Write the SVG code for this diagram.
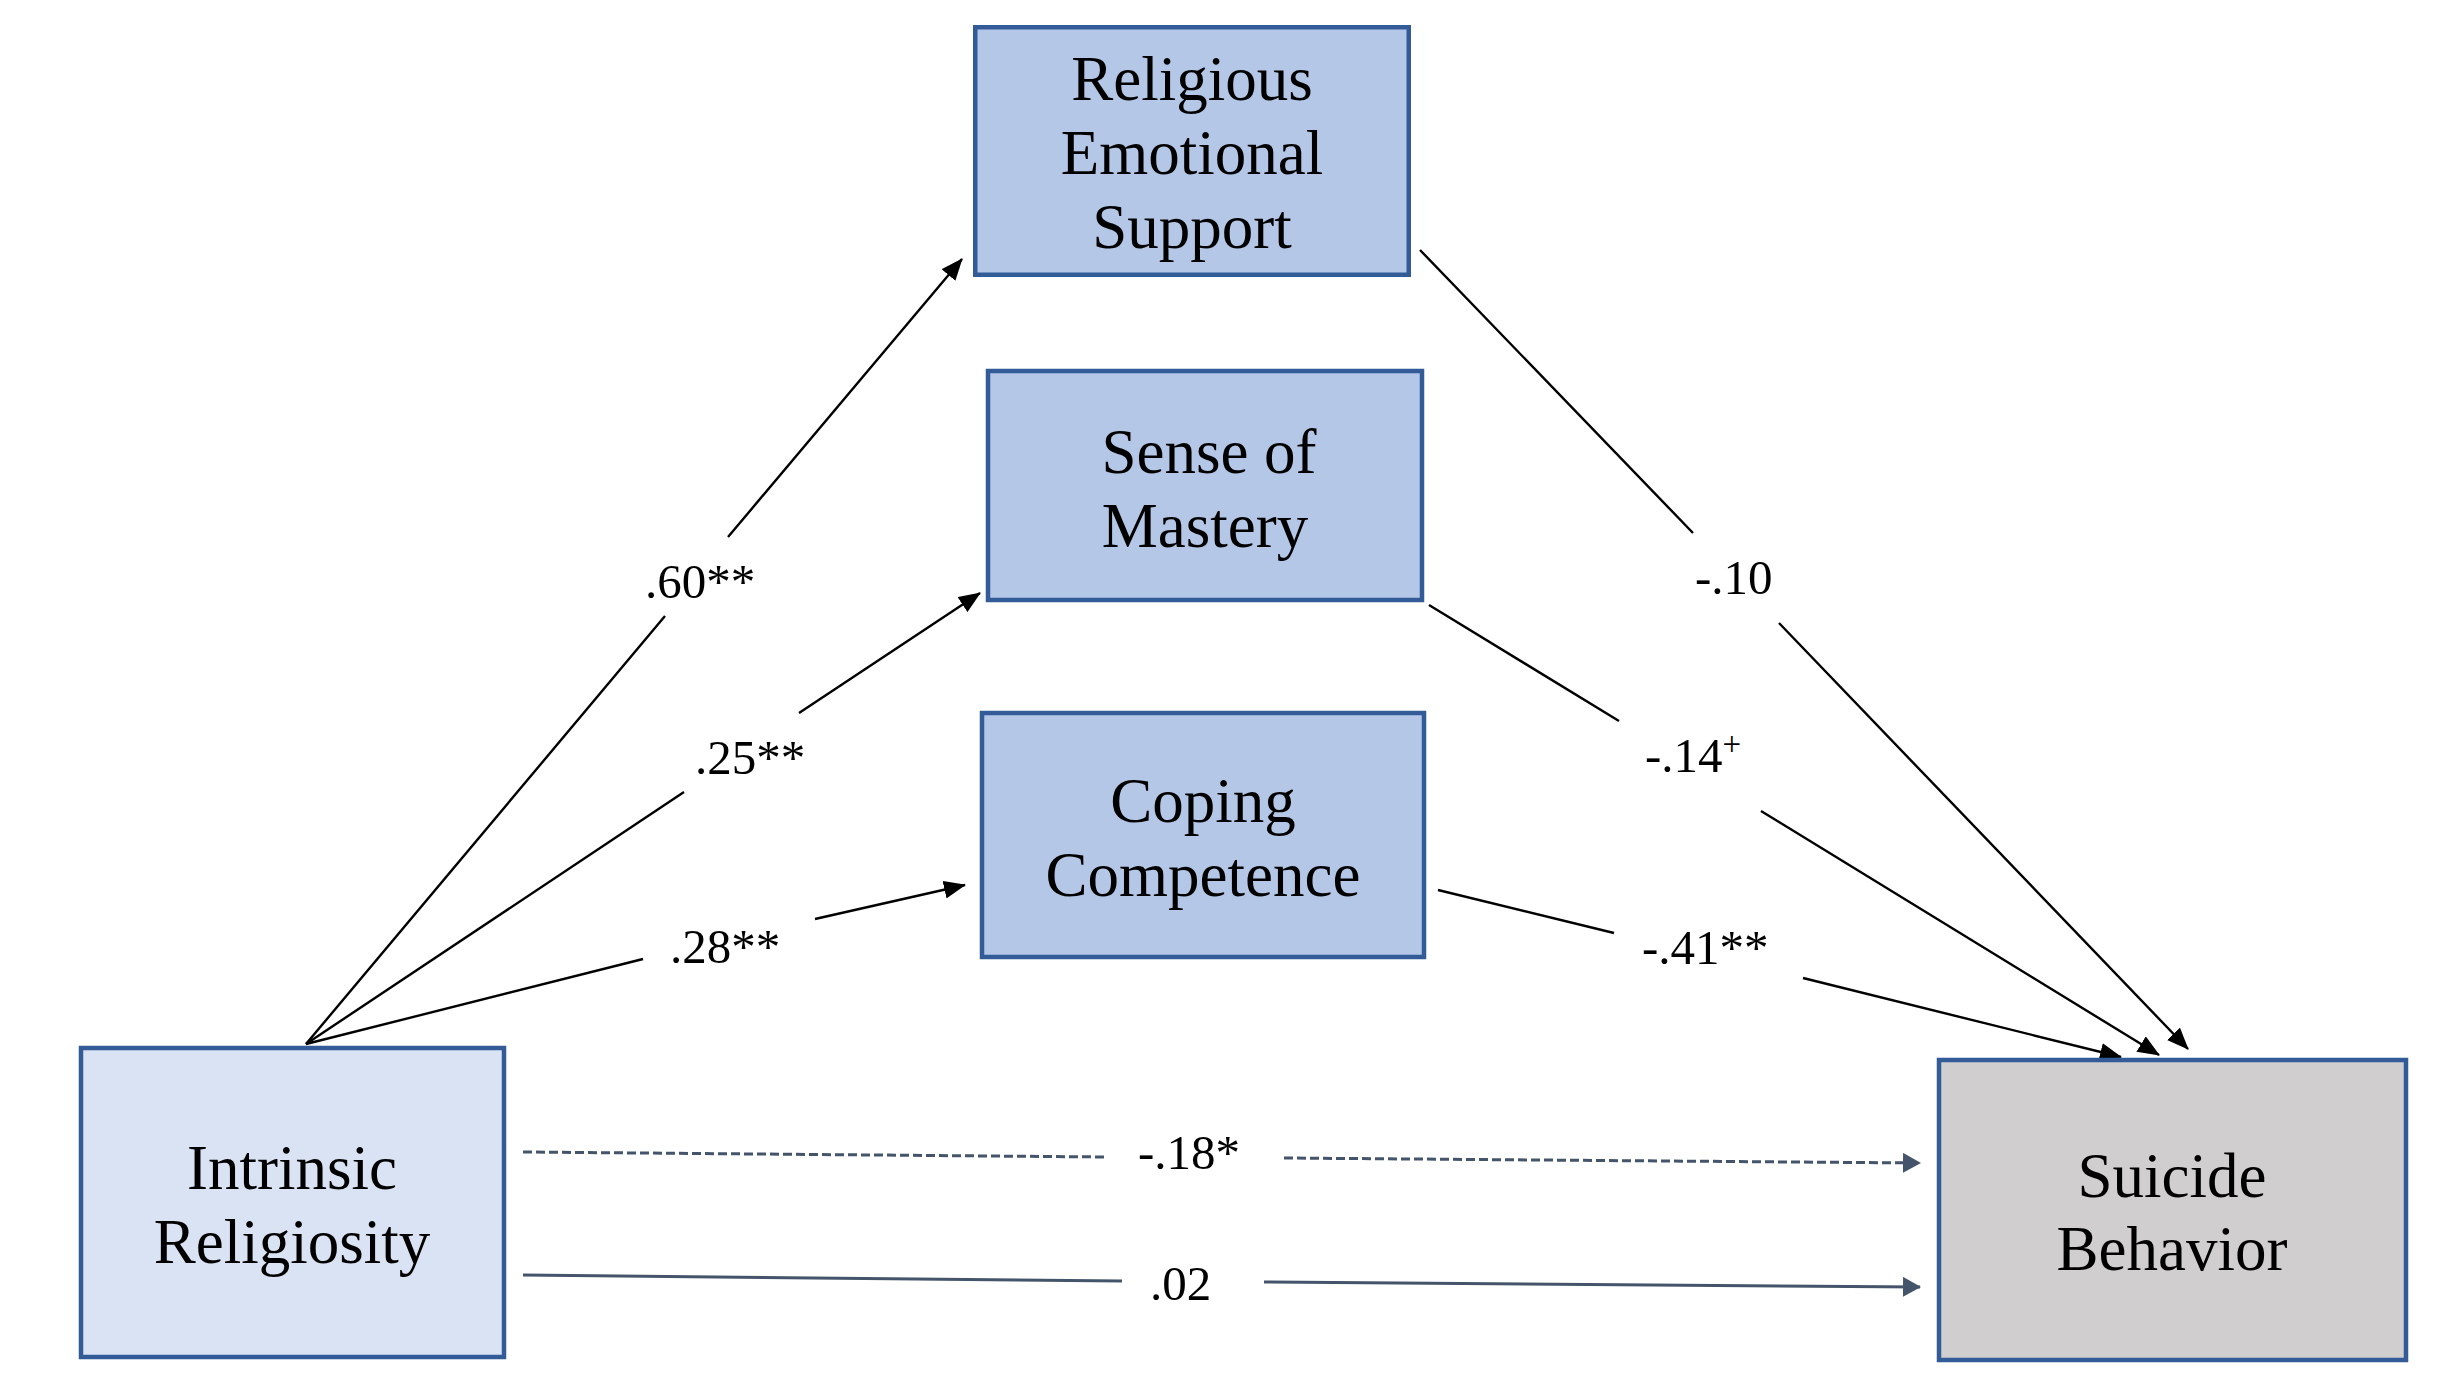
<svg xmlns="http://www.w3.org/2000/svg" width="2442" height="1382" viewBox="0 0 2442 1382">
<style>
.box{stroke:#335B98;stroke-width:4.5}
.mid{fill:#B4C7E7}
.src{fill:#DAE3F3}
.out{fill:#D0CECE}
.nt{font-family:"Liberation Serif","Times New Roman",serif;font-size:63px;fill:#000;text-anchor:middle}
.lt{font-family:"Liberation Serif","Times New Roman",serif;font-size:49px;fill:#000}
.sup{font-size:33px}
.blk{fill:none;stroke:#000;stroke-width:2.4;marker-end:url(#ab)}
.gry{fill:none;stroke:#44546A;stroke-width:3;marker-end:url(#ag)}
.dash{stroke-dasharray:9 4}
</style>
<defs>
<marker id="ab" markerUnits="userSpaceOnUse" markerWidth="22" markerHeight="18" refX="21" refY="9" orient="auto" viewBox="0 0 22 18">
<path d="M0,0 L22,9 L0,18 z" fill="#000"/>
</marker>
<marker id="ag" markerUnits="userSpaceOnUse" markerWidth="18" markerHeight="20" refX="17" refY="10" orient="auto" viewBox="0 0 18 20">
<path d="M0,0 L18,10 L0,20 z" fill="#44546A"/>
</marker>
</defs>
<rect width="2442" height="1382" fill="#fff"/>

<g id="connectors">
<path class="blk" d="M306,1044 L665,616 M728,537 L962,259"/>
<path class="blk" d="M306,1044 L684,792 M799,713 L980,593"/>
<path class="blk" d="M306,1044 L643,959 M815,919 L965,885"/>
<path class="blk" d="M1420,250 L1693,533 M1779,623 L2188,1049"/>
<path class="blk" d="M1429,605 L1619,721 M1761,811 L2159,1055"/>
<path class="blk" d="M1438,890 L1614,933 M1803,978 L2121,1057"/>
<path class="gry dash" d="M523,1152 L1106,1157 M1284,1158 L1920,1163"/>
<path class="gry" d="M523,1275 L1122,1281 M1264,1282 L1920,1287"/>
<text class="lt" x="645" y="598">.60**</text>
<text class="lt" x="695" y="774">.25**</text>
<text class="lt" x="670" y="963">.28**</text>
<text class="lt" x="1695" y="594">-.10</text>
<text class="lt" x="1645" y="772">-.14<tspan class="sup" dy="-17">+</tspan></text>
<text class="lt" x="1642" y="964">-.41**</text>
<text class="lt" x="1138" y="1169">-.18*</text>
<text class="lt" x="1150" y="1300">.02</text>
</g>

<g id="node-res">
<rect class="box mid" x="975.25" y="27.25" width="433.5" height="247.5"/>
<text class="nt" x="1192" y="100">Religious</text>
<text class="nt" x="1192" y="174">Emotional</text>
<text class="nt" x="1192" y="248">Support</text>
</g>

<g id="node-som">
<rect class="box mid" x="988" y="371" width="434" height="229"/>
<text class="nt" x="1209" y="473">Sense of</text>
<text class="nt" x="1205" y="547">Mastery</text>
</g>

<g id="node-cc">
<rect class="box mid" x="982" y="713" width="442" height="244"/>
<text class="nt" x="1203" y="822">Coping</text>
<text class="nt" x="1203" y="896">Competence</text>
</g>

<g id="node-ir">
<rect class="box src" x="81" y="1048" width="423" height="309"/>
<text class="nt" x="292" y="1189">Intrinsic</text>
<text class="nt" x="292" y="1263">Religiosity</text>
</g>

<g id="node-sb">
<rect class="box out" x="1939" y="1060" width="467" height="300"/>
<text class="nt" x="2172" y="1197">Suicide</text>
<text class="nt" x="2172" y="1270">Behavior</text>
</g>
</svg>
